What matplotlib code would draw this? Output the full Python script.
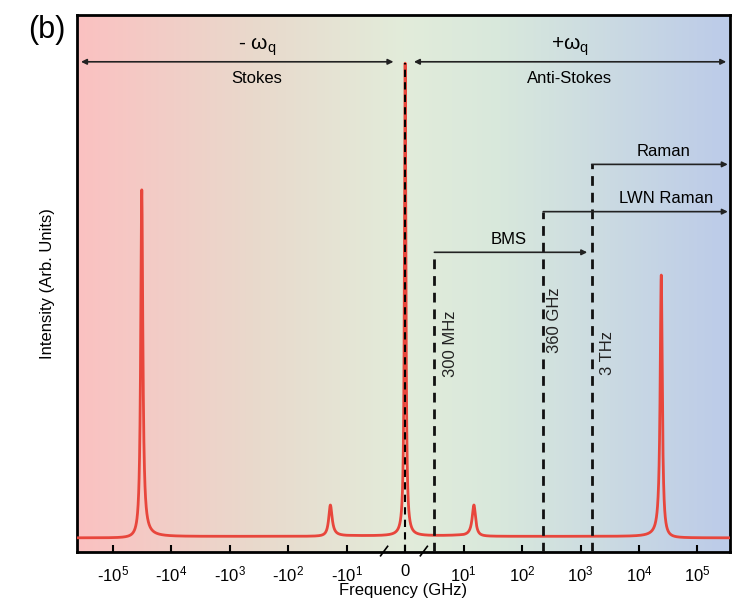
import matplotlib
matplotlib.use("Agg")
import matplotlib.pyplot as plt
import numpy as np
from matplotlib.colors import LinearSegmentedColormap

plt.rcParams['font.family'] = ['Liberation Sans', 'DejaVu Sans']
plt.rcParams['mathtext.fontset'] = 'custom'
plt.rcParams['mathtext.rm'] = 'Liberation Sans'
plt.rcParams['mathtext.it'] = 'Liberation Sans:italic'

# peaks (freq in GHz, relative height, relative width)
peak_freq = [-3.2e4, -19.0, 0.0, 15.0, 2.4e4]
peak_height = [0.736, 0.066, 1.0, 0.066, 0.556]
peak_width = [0.05, 0.08, 0.15, 0.08, 0.05]   # fraction of |f|, absolute for f=0

tick_vals = [-1e5, -1e4, -1e3, -1e2, -1e1, 0, 1e1, 1e2, 1e3, 1e4, 1e5]
tick_labels = ['-10$^5$', '-10$^4$', '-10$^3$', '-10$^2$', '-10$^1$', '0',
               '10$^1$', '10$^2$', '10$^3$', '10$^4$', '10$^5$']

# cut-off lines: position on axis, label, top of line
cut_freq = [5.0, 230.0, 1550.0]
cut_label = ['300 MHz', '360 GHz', '3 THz']
cut_top = [0.604, 0.69, 0.79]
cut_text_y = [0.41, 0.46, 0.39]
cut_text_dx = [6, 3, 6]

xmin, xmax = -4.1e5, 3.6e5
ymin, ymax = -0.03, 1.106

# frequency grid
f = np.concatenate([-np.logspace(np.log10(-xmin), -2, 4000), [0.0],
                    np.logspace(-2, np.log10(xmax), 4000)])
f = np.unique(np.concatenate([f, np.linspace(-10, 10, 4000)]))
inten = np.zeros_like(f)
for f0, h, w in zip(peak_freq, peak_height, peak_width):
    g = w * abs(f0) if f0 != 0 else w
    inten += h / (1 + ((f - f0) / g) ** 2)

fig = plt.figure(figsize=(7.41, 6.01), dpi=100)
ax = fig.add_axes([77 / 741, 1 - 552 / 601, 653 / 741, 537 / 601])
ax.set_xscale('symlog', linthresh=10, linscale=0.9)
ax.set_xlim(xmin, xmax)
ax.set_ylim(ymin, ymax)

# background gradient
cmap = LinearSegmentedColormap.from_list('bg', [
    (0.0, '#fbc1c1'), (0.27, '#e9d9cc'), (0.5, '#e2ecda'),
    (0.65, '#d8e8dc'), (1.0, '#bccbe9')])
grad = np.linspace(0, 1, 512).reshape(1, -1)
ax.imshow(grad, cmap=cmap, aspect='auto', extent=[0, 1, 0, 1],
          transform=ax.transAxes, zorder=0)

ax.plot(f, inten, color='#e8463c', lw=2, zorder=3)

# dashed lines
ax.plot([0, 0], [ymin, 1.005], ls=(0, (3.5, 2.5)), color='k', lw=1.5, zorder=4)
for x, top in zip(cut_freq, cut_top):
    ax.plot([x, x], [ymin, top], ls=(0, (3.5, 2.5)), color='#111111', lw=2, zorder=4)

for x, lab, yy, dx in zip(cut_freq, cut_label, cut_text_y, cut_text_dx):
    ax.annotate(lab, xy=(x, yy), xytext=(dx, 0), textcoords='offset points',
                rotation=90, ha='left', va='center', fontsize=12, color='#222222')

arrow = dict(arrowstyle='<|-|>', color='#222222', lw=1.2, mutation_scale=8,
             shrinkA=0, shrinkB=0)
arrow_r = dict(arrowstyle='-|>', color='#222222', lw=1.2, mutation_scale=8,
               shrinkA=0, shrinkB=0)

# Stokes / anti-Stokes
ya = 1.007
ax.annotate('', xy=(-3.5e5, ya), xytext=(-2.0, ya), arrowprops=arrow, zorder=5)
ax.annotate('', xy=(1.5, ya), xytext=(3.1e5, ya), arrowprops=arrow, zorder=5)
ax.text(-3.4e2, ya + 0.008, r'- $\mathrm{\omega_q}$', ha='center', va='bottom', fontsize=15)
ax.text(-3.4e2, ya - 0.02, 'Stokes', ha='center', va='top', fontsize=12)
ax.text(6.5e2, ya + 0.008, r'+$\mathrm{\omega_q}$', ha='center', va='bottom', fontsize=15)
ax.text(6.5e2, ya - 0.02, 'Anti-Stokes', ha='center', va='top', fontsize=12)

# technique ranges
ax.annotate('', xy=(3.3e5, cut_top[2]), xytext=(cut_freq[2], cut_top[2]),
            arrowprops=arrow_r, zorder=5)
ax.text(2.6e4, cut_top[2] + 0.012, 'Raman', ha='center', va='bottom', fontsize=12)
ax.annotate('', xy=(3.3e5, cut_top[1]), xytext=(cut_freq[1], cut_top[1]),
            arrowprops=arrow_r, zorder=5)
ax.text(2.9e4, cut_top[1] + 0.012, 'LWN Raman', ha='center', va='bottom', fontsize=12)
ax.annotate('', xy=(1.3e3, cut_top[0]), xytext=(cut_freq[0], cut_top[0]),
            arrowprops=arrow_r, zorder=5)
ax.text(60, cut_top[0] + 0.012, 'BMS', ha='center', va='bottom', fontsize=12)

# axis break marks
for xb in [-3.6, 3.2]:
    ax.plot([xb - 0.6, xb + 0.6], [-0.038, -0.018], color='k', lw=1.2,
            clip_on=False, zorder=6)

ax.set_xticks(tick_vals)
ax.set_xticklabels(tick_labels)
ax.xaxis.set_minor_locator(matplotlib.ticker.NullLocator())
ax.tick_params(axis='x', direction='in', length=5, width=1.5, labelsize=12, pad=9)
ax.set_yticks([])
for s in ax.spines.values():
    s.set_linewidth(2)
ax.set_xlabel('Frequency (GHz)', fontsize=12, labelpad=-1)
ax.set_ylabel('Intensity (Arb. Units)', fontsize=12, labelpad=16)

fig.text(28 / 741, 1 - 30 / 601, '(b)', fontsize=22, va='center', ha='left')

fig.savefig('out.png', dpi=100)
